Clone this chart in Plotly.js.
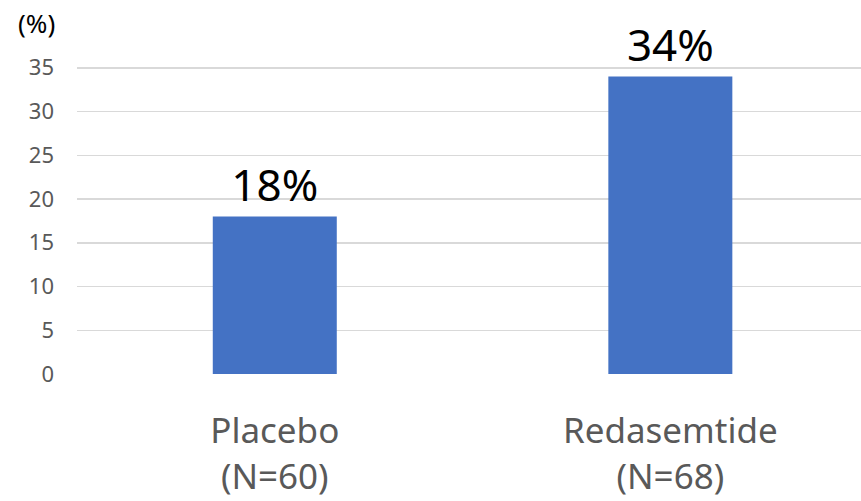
<!DOCTYPE html>
<html>
<head>
<meta charset="utf-8">
<script src="https://cdn.plot.ly/plotly-3.0.1.min.js"></script>
<style>html,body{margin:0;padding:0;background:#fff;}#chart{width:861px;height:501px;}</style>
</head>
<body>
<div id="chart"></div>
<script>
var categories = ["Placebo<br>(N=60)", "Redasemtide<br>(N=68)"];
var values = [18, 34];
var labels = ["18%", "34%"];
var yTickVals = [0, 5, 10, 15, 20, 25, 30, 35, 40];
var yTickText = ["0", "5", "10", "15", "20", "25", "30", "35", ""];
var yUnitLabel = "(%)";

var trace = {
  type: "bar",
  x: categories,
  y: values,
  text: labels,
  textposition: "outside",
  textfont: {family: "Noto Sans, sans-serif", size: 44, color: "#000000"},
  cliponaxis: false,
  marker: {color: "#4472C4"},
  hoverinfo: "none"
};

var layout = {
  width: 861,
  height: 501,
  margin: {l: 77, r: 0, t: 24, b: 127},
  paper_bgcolor: "#ffffff",
  plot_bgcolor: "#ffffff",
  bargap: 0.6865,
  showlegend: false,
  font: {family: "Noto Sans, sans-serif"},
  xaxis: {
    range: [-0.5, 1.482],
    showgrid: false,
    zeroline: false,
    showline: false,
    ticks: "",
    tickfont: {size: 35, color: "#595959"},
    ticklabelstandoff: 33
  },
  yaxis: {
    range: [0, 40],
    tickvals: yTickVals,
    ticktext: yTickText,
    showgrid: true,
    gridcolor: "#d9d9d9",
    gridwidth: 1.5,
    zeroline: false,
    showline: false,
    ticks: "",
    tickfont: {size: 22, color: "#595959"},
    ticklabelstandoff: 22
  },
  annotations: [{
    text: yUnitLabel,
    xref: "paper", x: 0, xanchor: "right", xshift: -20,
    yref: "y", y: 40, yanchor: "middle", yshift: 1,
    showarrow: false,
    font: {family: "Noto Sans, sans-serif", size: 26, color: "#000000"}
  }]
};

Plotly.newPlot("chart", [trace], layout, {displayModeBar: false, staticPlot: true});
</script>
</body>
</html>
